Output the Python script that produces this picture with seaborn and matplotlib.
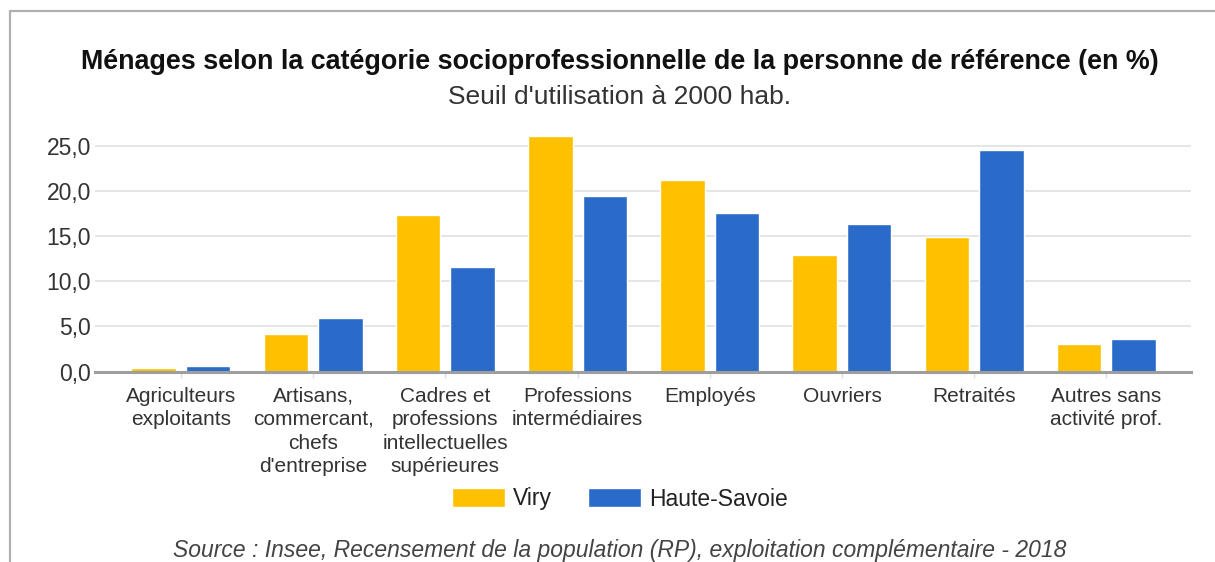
import numpy as np
import pandas as pd
import seaborn as sns
import matplotlib.pyplot as plt
from matplotlib.lines import Line2D
from matplotlib.ticker import FuncFormatter

# Data
categories = [
    "Agriculteurs\nexploitants",
    "Artisans,\ncommercant,\nchefs\nd'entreprise",
    "Cadres et\nprofessions\nintellectuelles\nsupérieures",
    "Professions\nintermédiaires",
    "Employés",
    "Ouvriers",
    "Retraités",
    "Autres sans\nactivité prof.",
]
viry = [0.35, 4.2, 17.4, 26.1, 21.2, 12.9, 14.9, 3.1]
haute_savoie = [0.6, 5.9, 11.6, 19.5, 17.6, 16.3, 24.6, 3.6]
series_names = ["Viry", "Haute-Savoie"]
colors = ["#ffc000", "#2a6bc9"]

df = pd.DataFrame({
    "categorie": categories * 2,
    "valeur": viry + haute_savoie,
    "zone": [series_names[0]] * len(categories) + [series_names[1]] * len(categories),
})

sns.set_theme(style="white")
plt.rcParams['font.family'] = ['Liberation Sans', 'DejaVu Sans']

W, H = 1215, 562
fig = plt.figure(figsize=(W / 100, H / 100), dpi=100)
ax = fig.add_axes([95 / W, 1 - 371.5 / H, 1096 / W, 243.5 / H])

sns.barplot(data=df, x="categorie", y="valeur", hue="zone", palette=colors,
            width=0.824, gap=0.183, ax=ax, legend=True, saturation=1)

# Axes style
ax.set_xlim(-0.65, 7.64)
ax.set_ylim(0, 27)
ax.set_yticks([0, 5, 10, 15, 20, 25])
ax.yaxis.set_major_formatter(FuncFormatter(lambda v, p: f"{v:.1f}".replace(".", ",")))
ax.grid(axis="y", color="#e0e0e0", lw=1.2)
ax.set_axisbelow(True)
for s in ["top", "right", "left"]:
    ax.spines[s].set_visible(False)
ax.spines["bottom"].set_color("#9e9e9e")
ax.spines["bottom"].set_linewidth(2.2)
ax.set_xlabel("")
ax.set_ylabel("")
ax.tick_params(axis="y", length=0, pad=3, labelsize=16.5, labelcolor="#333333")
ax.tick_params(axis="x", bottom=True, length=4, width=1, color="#e0e0e0", pad=7,
               labelsize=15, labelcolor="#333333")
for lbl in ax.get_xticklabels():
    lbl.set_linespacing(1.3)
    lbl.set_verticalalignment("top")

# Legend below the chart
handles, labels = ax.get_legend_handles_labels()
ax.get_legend().remove()
fig.legend(handles, labels, loc="center", bbox_to_anchor=(620 / W, 1 - 499 / H),
           ncol=2, frameon=False, fontsize=16.5, handlelength=2.3, handleheight=0.9,
           handletextpad=0.35, columnspacing=1.6, labelcolor="#222222")

# Titles and source
fig.text(620 / W, 1 - 62 / H,
         "Ménages selon la catégorie socioprofessionnelle de la personne de référence (en %)",
         ha="center", va="center", fontsize=19.4, fontweight="bold", color="#111111")
fig.text(620 / W, 1 - 97 / H, "Seuil d'utilisation à 2000 hab.",
         ha="center", va="center", fontsize=19, color="#333333")
fig.text(620 / W, 1 - 551 / H,
         "Source : Insee, Recensement de la population (RP), exploitation complémentaire - 2018",
         ha="center", va="center", fontsize=16.5, style="italic", color="#444444")

# Outer frame (top and left edge)
fig.add_artist(Line2D([10 / W, 1], [1 - 11 / H, 1 - 11 / H], color="#b0b0b0", lw=1.6,
                      transform=fig.transFigure))
fig.add_artist(Line2D([10 / W, 10 / W], [0, 1 - 11 / H], color="#b0b0b0", lw=1.6,
                      transform=fig.transFigure))

fig.savefig("out.png", dpi=100, facecolor="white")
